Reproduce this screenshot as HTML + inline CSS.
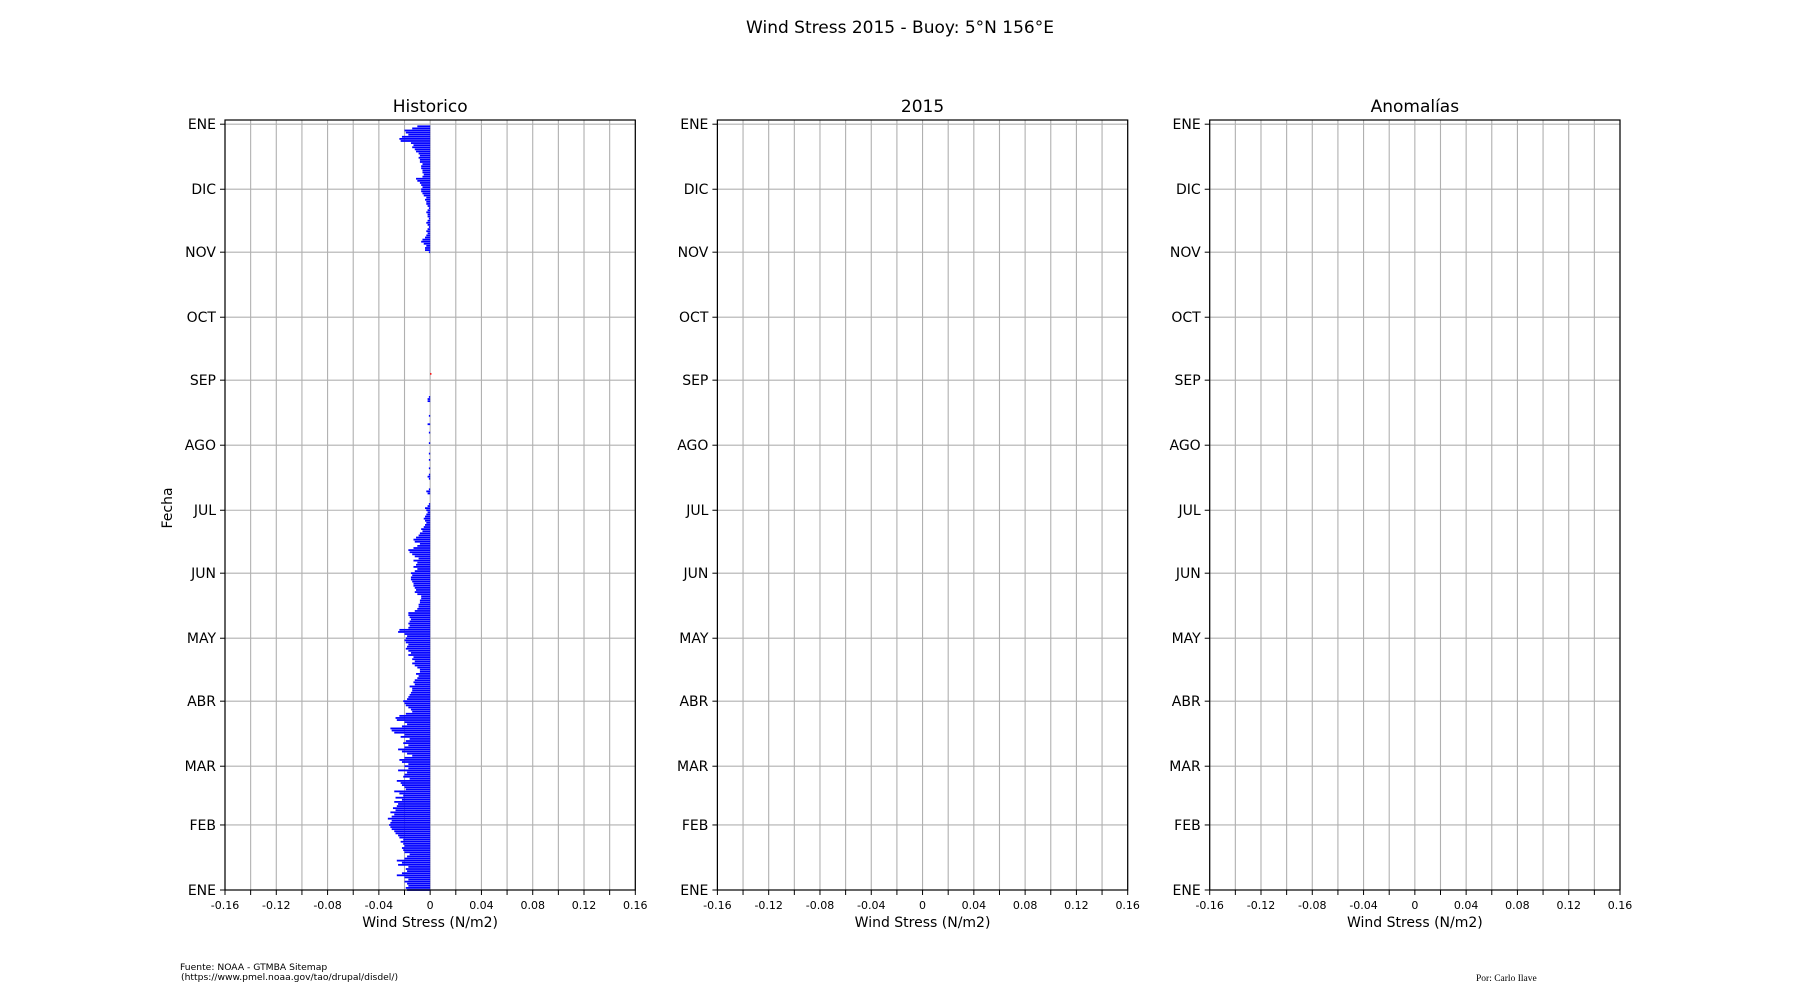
<!DOCTYPE html>
<html><head><meta charset="utf-8"><style>
html,body{margin:0;padding:0;background:#fff;}
svg{display:block;font-family:"DejaVu Sans","Liberation Sans",sans-serif;}
</style></head><body>
<svg id="fig" width="1800" height="1000" viewBox="0 0 1800 1000" xmlns="http://www.w3.org/2000/svg">
<rect width="1800" height="1000" fill="#fff"/>
<text x="900" y="33" text-anchor="middle" font-size="17" fill="#000">Wind Stress 2015 - Buoy: 5°N 156°E</text>
<text x="172" y="508" text-anchor="middle" font-size="14" transform="rotate(-90 172 508)">Fecha</text>
<text x="180" y="970" font-size="9.2">Fuente: NOAA - GTMBA Sitemap</text>
<text x="181" y="980" font-size="9.2">(https://www.pmel.noaa.gov/tao/drupal/disdel/)</text>
<text x="1476" y="981" font-size="9.5" font-family="'Liberation Serif',serif">Por: Carlo Ilave</text>
</svg>
<script>
// Day-of-year wind stress values (units of 0.001 N/m2), Jan..Dec
const jan=[-18,-19,-17,-18,-20,-17,-20,-26,-22,-18,-19,-17,-25,-22,-26,-20,-18,-16,-20,-21,-22,-20,-21,-23,-21,-24,-25,-27,-28,-30,-31];
const feb=[-32,-31,-30,-33,-30,-28,-31,-27,-29,-26,-25,-28,-22,-27,-21,-24,-28,-19,-20,-22,-23,-26,-16,-21,-20,-18,-25,-17];
const mar=[-20,-17,-22,-24,-20,-14,-18,-22,-25,-20,-17,-21,-19,-16,-23,-20,-28,-30,-31,-22,-18,-20,-26,-27,-24,-19,-14,-15,-17,-19,-20];
const apr=[-21,-18,-17,-16,-15,-14,-14,-16,-12,-13,-12,-10,-9,-11,-8,-8,-10,-12,-14,-12,-14,-13,-17,-15,-17,-19,-18,-17,-19,-20];
const may=[-19,-18,-20,-25,-24,-17,-16,-17,-16,-15,-16,-17,-17,-12,-10,-9,-9,-8,-8,-7,-7,-10,-12,-11,-12,-13,-13,-14,-15,-15,-14];
const jun=[-15,-12,-10,-13,-11,-10,-13,-9,-12,-14,-16,-17,-13,-10,-8,-12,-13,-11,-9,-8,-6,-7,-5,-4,-3,-4,-5,-4,-3,-2];
const jul=[-3,-4,-2,-1,0,0,0,0,-2,-3,-1,0,0,0,0,-1,-2,-1,0,0,-1,0,0,0,-1,0,0,-1,0,0,0];
const aug=[0,-1,0,0,0,0,-1,0,0,0,-2,0,0,0,-1,0,0,0,0,0,0,-2,-2,-1,0,0,0,0,0,0,0];
const sep=[0,0,0,1,0,0,0,0,0,0,0,0,0,0,0,0,0,0,0,0,0,0,0,0,0,0,0,0,0,0];
const oct=[0,0,0,0,0,0,0,0,0,0,0,0,0,0,0,0,0,0,0,0,0,0,0,0,0,0,0,0,0,0,0];
const nov=[-1,-4,-4,-3,-5,-7,-6,-4,-3,-2,-3,-2,-1,-2,-3,-2,-1,-2,-2,-3,-2,-1,-2,-3,-3,-4,-3,-5,-6,-7];
const dec=[-7,-6,-7,-8,-10,-11,-6,-5,-6,-6,-7,-7,-6,-8,-8,-9,-8,-9,-11,-12,-14,-13,-15,-23,-24,-22,-17,-19,-20,-14,-10];
const monthLabels=["ENE","FEB","MAR","ABR","MAY","JUN","JUL","AGO","SEP","OCT","NOV","DIC","ENE"];
const monthDays=[0,31,59,90,120,151,181,212,243,273,304,334,365];
const xTicks=[-0.16,-0.12,-0.08,-0.04,0,0.04,0.08,0.12,0.16];
const xTickLabels=["-0.16","-0.12","-0.08","-0.04","0","0.04","0.08","0.12","0.16"];
const panelTitles=["Historico","2015","Anomalías"];

const NS="http://www.w3.org/2000/svg";
const svg=document.getElementById('fig');
const series=[].concat(jan,feb,mar,apr,may,jun,jul,aug,sep,oct,nov,dec).map(v=>v/1000);
const axTop=120,axBot=890,W=410.3,lefts=[225,717.4,1209.7];
const yMax=367;
function Y(d){return axBot-(d/yMax)*(axBot-axTop);}
function mk(tag,attrs,parent){const e=document.createElementNS(NS,tag);for(const k in attrs)e.setAttribute(k,attrs[k]);(parent||svg).appendChild(e);return e;}

lefts.forEach((L,pi)=>{
  const X=v=>L+(v+0.16)/0.32*W;
  const g=mk('g',{});
  
  
  for(let i=0;i<=16;i++){const v=-0.16+i*0.02;const x=X(v);
    const l=mk('line',{x1:x,x2:x,y1:axTop,y2:axBot,stroke:'#b0b0b0','stroke-width':1.1},g);
    
    
    const t=mk('line',{x1:x,x2:x,y1:axBot,y2:axBot+5,stroke:'#000','stroke-width':1},g);
    
    
  }
  monthDays.forEach((d,i)=>{const y=Y(d);
    const l=mk('line',{x1:L,x2:L+W,y1:y,y2:y,stroke:'#b0b0b0','stroke-width':1.1},g);
    
    
    const t=mk('line',{x1:L-5,x2:L,y1:y,y2:y,stroke:'#000','stroke-width':1},g);
    
    
    const tx=mk('text',{x:L-9,y:y+5,'text-anchor':'end','font-size':14},g);
    tx.textContent=monthLabels[i];
    
    
  });
  if(pi===0){
    const barH=(axBot-axTop)/yMax*0.85;
    series.forEach((v,d)=>{ if(v===0)return;
      const x0=X(0),x1=X(v);
      const r=mk('rect',{x:Math.min(x0,x1),y:Y(d)-barH/2,width:Math.max(Math.abs(x1-x0),0.8),height:barH,fill:v<0?'#0000ff':'#ff0000'},g);
      
      
    });
  }
  xTicks.forEach((v,i)=>{
    const tx=mk('text',{x:X(v),y:909,'text-anchor':'middle','font-size':11},g);
    tx.textContent=xTickLabels[i];
    
    
  });
  const fr=mk('rect',{x:L,y:axTop,width:W,height:axBot-axTop,fill:'none',stroke:'#000','stroke-width':1.2},g);
  
  
  const xl=mk('text',{x:L+W/2,y:927,'text-anchor':'middle','font-size':14},g);
  xl.textContent='Wind Stress (N/m2)';
  
  
  const tt=mk('text',{x:L+W/2,y:112,'text-anchor':'middle','font-size':17},g);
  tt.textContent=panelTitles[pi];
  
  
});
</script>
</body></html>
